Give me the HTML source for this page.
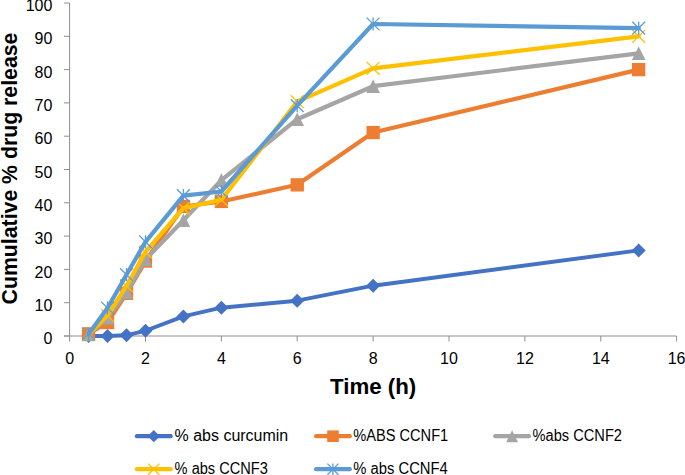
<!DOCTYPE html>
<html><head><meta charset="utf-8"><title>Chart</title>
<style>
html,body{margin:0;padding:0;background:#fff;}
body{width:685px;height:475px;overflow:hidden;}
svg{display:block;}
text{font-family:"Liberation Sans",sans-serif;fill:#000;}
.t{font-size:16px;}
.l{font-size:16px;}
.b{font-size:22px;font-weight:bold;}
</style></head><body>
<svg width="685" height="475" viewBox="0 0 685 475">
<rect width="685" height="475" fill="#fff"/>
<path d="M69.6 3.0V341.5M64.0 336.0H676.6M64.0 336.0H69.6M64.0 302.7H69.6M64.0 269.4H69.6M64.0 236.1H69.6M64.0 202.8H69.6M64.0 169.5H69.6M64.0 136.2H69.6M64.0 102.9H69.6M64.0 69.6H69.6M64.0 36.3H69.6M64.0 3.0H69.6M145.5 336.0V341.5M221.4 336.0V341.5M297.2 336.0V341.5M373.1 336.0V341.5M449.0 336.0V341.5M524.9 336.0V341.5M600.8 336.0V341.5M676.6 336.0V341.5" stroke="#8e8e8e" stroke-width="1" fill="none"/>
<text class="t" x="52.4" y="344.1" text-anchor="end">0</text>
<text class="t" x="52.4" y="310.8" text-anchor="end">10</text>
<text class="t" x="52.4" y="277.5" text-anchor="end">20</text>
<text class="t" x="52.4" y="244.2" text-anchor="end">30</text>
<text class="t" x="52.4" y="210.9" text-anchor="end">40</text>
<text class="t" x="52.4" y="177.6" text-anchor="end">50</text>
<text class="t" x="52.4" y="144.3" text-anchor="end">60</text>
<text class="t" x="52.4" y="111.0" text-anchor="end">70</text>
<text class="t" x="52.4" y="77.7" text-anchor="end">80</text>
<text class="t" x="52.4" y="44.4" text-anchor="end">90</text>
<text class="t" x="52.4" y="11.1" text-anchor="end">100</text>
<text class="t" x="69.6" y="363.5" text-anchor="middle">0</text>
<text class="t" x="145.5" y="363.5" text-anchor="middle">2</text>
<text class="t" x="221.4" y="363.5" text-anchor="middle">4</text>
<text class="t" x="297.2" y="363.5" text-anchor="middle">6</text>
<text class="t" x="373.1" y="363.5" text-anchor="middle">8</text>
<text class="t" x="449.0" y="363.5" text-anchor="middle">10</text>
<text class="t" x="524.9" y="363.5" text-anchor="middle">12</text>
<text class="t" x="600.8" y="363.5" text-anchor="middle">14</text>
<text class="t" x="676.6" y="363.5" text-anchor="middle">16</text>
<text class="b" x="330.0" y="393.6" textLength="86.2" lengthAdjust="spacingAndGlyphs">Time (h)</text>
<text class="b" transform="translate(16.7 304.4) rotate(-90)" x="0" y="0" textLength="271.8" lengthAdjust="spacingAndGlyphs">Cumulative % drug release</text>
<path d="M88.6 336.0L107.5 336.0L126.5 335.3L145.5 330.7L183.4 316.4L221.4 307.7L297.2 300.7L373.1 285.7L638.7 250.4" stroke="#4472C4" stroke-width="3.9" fill="none" stroke-linejoin="round" stroke-linecap="round"/>
<path d="M88.6 329.0L95.6 336.0L88.6 343.0L81.6 336.0Z" fill="#4472C4"/>
<path d="M107.5 329.0L114.5 336.0L107.5 343.0L100.5 336.0Z" fill="#4472C4"/>
<path d="M126.5 328.3L133.5 335.3L126.5 342.3L119.5 335.3Z" fill="#4472C4"/>
<path d="M145.5 323.7L152.5 330.7L145.5 337.7L138.5 330.7Z" fill="#4472C4"/>
<path d="M183.4 309.4L190.4 316.4L183.4 323.4L176.4 316.4Z" fill="#4472C4"/>
<path d="M221.4 300.7L228.4 307.7L221.4 314.7L214.4 307.7Z" fill="#4472C4"/>
<path d="M297.2 293.7L304.2 300.7L297.2 307.7L290.2 300.7Z" fill="#4472C4"/>
<path d="M373.1 278.7L380.1 285.7L373.1 292.7L366.1 285.7Z" fill="#4472C4"/>
<path d="M638.7 243.4L645.7 250.4L638.7 257.4L631.7 250.4Z" fill="#4472C4"/>
<path d="M88.6 333.8L107.5 322.5L126.5 293.4L145.5 261.1L183.4 206.5L221.4 201.5L297.2 184.8L373.1 132.5L638.7 69.6" stroke="#ED7D31" stroke-width="4.2" fill="none" stroke-linejoin="round" stroke-linecap="round"/>
<rect x="81.9" y="327.2" width="13.3" height="13.3" fill="#ED7D31"/>
<rect x="100.9" y="315.9" width="13.3" height="13.3" fill="#ED7D31"/>
<rect x="119.9" y="286.7" width="13.3" height="13.3" fill="#ED7D31"/>
<rect x="138.8" y="254.4" width="13.3" height="13.3" fill="#ED7D31"/>
<rect x="176.8" y="199.8" width="13.3" height="13.3" fill="#ED7D31"/>
<rect x="214.7" y="194.8" width="13.3" height="13.3" fill="#ED7D31"/>
<rect x="290.6" y="178.2" width="13.3" height="13.3" fill="#ED7D31"/>
<rect x="366.5" y="125.9" width="13.3" height="13.3" fill="#ED7D31"/>
<rect x="632.0" y="63.0" width="13.3" height="13.3" fill="#ED7D31"/>
<path d="M88.6 334.3L107.5 317.7L126.5 292.0L145.5 259.4L183.4 220.3L221.4 180.2L297.2 119.2L373.1 86.2L638.7 53.3" stroke="#A5A5A5" stroke-width="4.2" fill="none" stroke-linejoin="round" stroke-linecap="round"/>
<path d="M88.6 327.5L95.4 341.2L81.7 341.2Z" fill="#A5A5A5"/>
<path d="M107.5 310.8L114.4 324.5L100.7 324.5Z" fill="#A5A5A5"/>
<path d="M126.5 285.2L133.4 298.9L119.7 298.9Z" fill="#A5A5A5"/>
<path d="M145.5 252.6L152.3 266.3L138.6 266.3Z" fill="#A5A5A5"/>
<path d="M183.4 213.4L190.3 227.1L176.6 227.1Z" fill="#A5A5A5"/>
<path d="M221.4 173.3L228.2 187.0L214.5 187.0Z" fill="#A5A5A5"/>
<path d="M297.2 112.4L304.1 126.1L290.4 126.1Z" fill="#A5A5A5"/>
<path d="M373.1 79.4L380.0 93.1L366.3 93.1Z" fill="#A5A5A5"/>
<path d="M638.7 46.4L645.5 60.1L631.8 60.1Z" fill="#A5A5A5"/>
<path d="M88.6 334.3L107.5 315.5L126.5 285.9L145.5 251.8L183.4 208.1L221.4 199.8L297.2 101.6L373.1 68.3L638.7 36.3" stroke="#FFC000" stroke-width="4.2" fill="none" stroke-linejoin="round" stroke-linecap="round"/>
<path d="M82.2 327.9L95.0 340.7M95.0 327.9L82.2 340.7" stroke="#FFC000" stroke-width="1.3" fill="none"/>
<path d="M101.1 309.1L113.9 321.9M113.9 309.1L101.1 321.9" stroke="#FFC000" stroke-width="1.3" fill="none"/>
<path d="M120.1 279.5L132.9 292.3M132.9 279.5L120.1 292.3" stroke="#FFC000" stroke-width="1.3" fill="none"/>
<path d="M139.1 245.4L151.9 258.2M151.9 245.4L139.1 258.2" stroke="#FFC000" stroke-width="1.3" fill="none"/>
<path d="M177.0 201.7L189.8 214.5M189.8 201.7L177.0 214.5" stroke="#FFC000" stroke-width="1.3" fill="none"/>
<path d="M215.0 193.4L227.8 206.2M227.8 193.4L215.0 206.2" stroke="#FFC000" stroke-width="1.3" fill="none"/>
<path d="M290.8 95.2L303.6 108.0M303.6 95.2L290.8 108.0" stroke="#FFC000" stroke-width="1.3" fill="none"/>
<path d="M366.7 61.9L379.5 74.7M379.5 61.9L366.7 74.7" stroke="#FFC000" stroke-width="1.3" fill="none"/>
<path d="M632.3 29.9L645.1 42.7M645.1 29.9L632.3 42.7" stroke="#FFC000" stroke-width="1.3" fill="none"/>
<path d="M88.6 334.0L107.5 308.0L126.5 274.7L145.5 241.8L183.4 195.6L221.4 191.5L297.2 105.6L373.1 24.0L638.7 28.1" stroke="#5B9BD5" stroke-width="4.2" fill="none" stroke-linejoin="round" stroke-linecap="round"/>
<path d="M82.2 327.6L95.0 340.4M95.0 327.6L82.2 340.4M88.6 327.4L88.6 340.6" stroke="#5B9BD5" stroke-width="1.3" fill="none"/>
<path d="M101.1 301.6L113.9 314.4M113.9 301.6L101.1 314.4M107.5 301.4L107.5 314.6" stroke="#5B9BD5" stroke-width="1.3" fill="none"/>
<path d="M120.1 268.3L132.9 281.1M132.9 268.3L120.1 281.1M126.5 268.1L126.5 281.3" stroke="#5B9BD5" stroke-width="1.3" fill="none"/>
<path d="M139.1 235.4L151.9 248.2M151.9 235.4L139.1 248.2M145.5 235.2L145.5 248.4" stroke="#5B9BD5" stroke-width="1.3" fill="none"/>
<path d="M177.0 189.2L189.8 202.0M189.8 189.2L177.0 202.0M183.4 189.0L183.4 202.2" stroke="#5B9BD5" stroke-width="1.3" fill="none"/>
<path d="M215.0 185.1L227.8 197.9M227.8 185.1L215.0 197.9M221.4 184.9L221.4 198.1" stroke="#5B9BD5" stroke-width="1.3" fill="none"/>
<path d="M290.8 99.2L303.6 112.0M303.6 99.2L290.8 112.0M297.2 99.0L297.2 112.2" stroke="#5B9BD5" stroke-width="1.3" fill="none"/>
<path d="M366.7 17.6L379.5 30.4M379.5 17.6L366.7 30.4M373.1 17.4L373.1 30.6" stroke="#5B9BD5" stroke-width="1.3" fill="none"/>
<path d="M632.3 21.7L645.1 34.5M645.1 21.7L632.3 34.5M638.7 21.5L638.7 34.7" stroke="#5B9BD5" stroke-width="1.3" fill="none"/>
<path d="M136.9 436.2H170.7" stroke="#4472C4" stroke-width="4.2" stroke-linecap="round"/>
<path d="M153.8 430.1L159.9 436.2L153.8 442.3L147.7 436.2Z" fill="#4472C4"/>
<text class="l" x="174.6" y="440.6" textLength="113.6" lengthAdjust="spacingAndGlyphs">% abs curcumin</text>
<path d="M316.1 436.2H349.8" stroke="#ED7D31" stroke-width="4.2" stroke-linecap="round"/>
<rect x="327.2" y="430.4" width="11.6" height="11.6" fill="#ED7D31"/>
<text class="l" x="353.2" y="440.6" textLength="95.0" lengthAdjust="spacingAndGlyphs">%ABS CCNF1</text>
<path d="M495.2 436.2H528.9" stroke="#A5A5A5" stroke-width="4.2" stroke-linecap="round"/>
<path d="M512.1 430.2L518.0 442.2L506.1 442.2Z" fill="#A5A5A5"/>
<text class="l" x="532.6" y="440.6" textLength="89.4" lengthAdjust="spacingAndGlyphs">%abs CCNF2</text>
<path d="M136.9 469.2H170.7" stroke="#FFC000" stroke-width="4.2" stroke-linecap="round"/>
<path d="M148.2 463.6L159.4 474.8M159.4 463.6L148.2 474.8" stroke="#FFC000" stroke-width="1.3" fill="none"/>
<text class="l" x="174.6" y="473.6" textLength="93.3" lengthAdjust="spacingAndGlyphs">% abs CCNF3</text>
<path d="M316.1 469.2H349.8" stroke="#5B9BD5" stroke-width="4.2" stroke-linecap="round"/>
<path d="M327.4 463.6L338.5 474.8M338.5 463.6L327.4 474.8M332.9 463.5L332.9 474.9" stroke="#5B9BD5" stroke-width="1.3" fill="none"/>
<text class="l" x="353.2" y="473.6" textLength="94.6" lengthAdjust="spacingAndGlyphs">% abs CCNF4</text>
</svg></body></html>
